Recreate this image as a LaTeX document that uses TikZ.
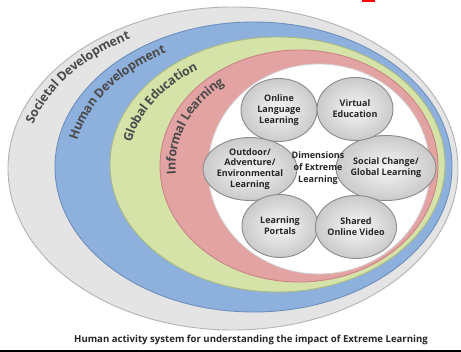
\documentclass[tikz,border=0pt]{standalone}
\usepackage{fontspec}
\setmainfont{Open Sans}
\usetikzlibrary{shapes.geometric,decorations.text,calc}

\definecolor{bandgray}{HTML}{E4E4E4}
\definecolor{bandgrayline}{HTML}{B3B3B3}
\definecolor{bandblue}{HTML}{8DB0DC}
\definecolor{bandblueline}{HTML}{6E8FBB}
\definecolor{bandgreen}{HTML}{D5E3A9}
\definecolor{bandgreenline}{HTML}{AABA82}
\definecolor{bandpink}{HTML}{E4A3A3}
\definecolor{bandpinkline}{HTML}{C88585}
\definecolor{labelgray}{HTML}{4A4A4A}
\definecolor{bubblerim}{HTML}{CACACA}
\definecolor{bubblecore}{HTML}{F6F6F6}
\definecolor{bubbleline}{HTML}{8A8A8A}
\definecolor{captionink}{HTML}{262626}

\newcommand{\bandfont}{\bfseries\fontsize{12.5}{12.5}\selectfont}

\tikzset{
  band/.style={line width=0.9pt},
  bandlabel/.style={decorate, decoration={text along path, text align=center,
      raise=-4.5pt, text color=labelgray}},
  bubble/.style={ellipse, draw=bubbleline, line width=0.9pt,
      inner color=bubblecore, outer color=bubblerim,
      minimum width=76pt, minimum height=63pt, inner sep=0pt, align=center,
      font=\bfseries\fontsize{9}{10.8}\selectfont, text=black!85},
  hub/.style={align=center, font=\bfseries\fontsize{9}{12}\selectfont, text=black!85},
}

\begin{document}
\begin{tikzpicture}[x=1pt,y=1pt]
\useasboundingbox (0,0) rectangle (461,352);
\fill[white] (0,0) rectangle (461,352);

% nested bands, outermost first
\filldraw[band, fill=bandgray, draw=bandgrayline] (233,183.5) ellipse [x radius=225pt, y radius=161.5pt];
\filldraw[band, fill=bandblue, draw=bandblueline] (253.5,185) ellipse [x radius=198.5pt, y radius=145pt];
\filldraw[band, fill=bandgreen, draw=bandgreenline] (277.5,187.5) ellipse [x radius=167.5pt, y radius=127.5pt];
\filldraw[band, fill=bandpink, draw=bandpinkline] (299,186) ellipse [x radius=139pt, y radius=116pt];
\filldraw[line width=0.8pt, fill=white, draw=black!18] (319,183) ellipse [x radius=111pt, y radius=105pt];

% curved band labels
\path[bandlabel, decoration={text={|\bandfont|Societal Development}}]
  ($(233,183.5)+(164:213.75pt and 153.4pt)$)
  arc[start angle=164, end angle=118, x radius=213.75pt, y radius=153.4pt];
\path[bandlabel, decoration={text={|\bandfont|Human Development}}]
  ($(253.5,185)+(169:184.6pt and 134.9pt)$)
  arc[start angle=169, end angle=118, x radius=184.6pt, y radius=134.9pt];
\path[bandlabel, decoration={text={|\bandfont|Global Education}}]
  ($(277.5,187.5)+(171:153.3pt and 116.7pt)$)
  arc[start angle=171, end angle=120, x radius=153.3pt, y radius=116.7pt];
\path[bandlabel, decoration={text={|\bandfont|Informal Learning}}]
  ($(299,186)+(189:128pt and 107pt)$)
  arc[start angle=189, end angle=123, x radius=128pt, y radius=107pt];

% dimensions of extreme learning
\node[bubble] (outdoor) at (250,183) {Outdoor/\\Adventure/\\Environmental\\Learning};
\node[bubble] (portals) at (280,126) {Learning\\Portals};
\node[bubble, minimum width=73pt, minimum height=65pt] (social) at (386,184) {Social Change/\\Global Learning};
\node[bubble] (video) at (356,125) {Shared\\Online Video};
\node[bubble] (language) at (279,242) {Online\\Language\\Learning};
\node[bubble] (virtual) at (355,243) {Virtual\\Education};
\node[hub] (dimensions) at (318,184) {Dimensions\\of Extreme\\Learning};

% caption and frame edges
\node[font=\bfseries\fontsize{9.6}{12}\selectfont, text=captionink] (caption) at (251,12)
  {Human activity system for understanding the impact of Extreme Learning};
\fill[black] (0,0) rectangle (461,2.2);
\fill[red] (362,349.5) rectangle (375,352);
\end{tikzpicture}
\end{document}
